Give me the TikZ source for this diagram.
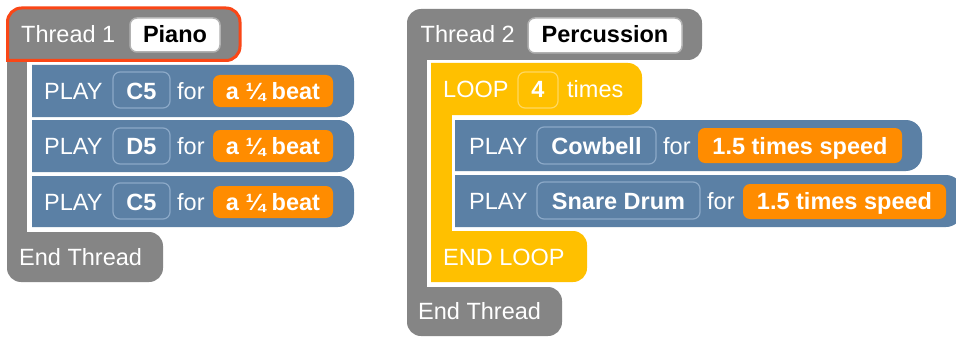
\documentclass[tikz,border=0pt]{standalone}
\usepackage{fontspec}
\setmainfont{Liberation Sans}
\definecolor{blkgray}{HTML}{858585}
\definecolor{blkblue}{HTML}{5B80A5}
\definecolor{fldblue}{HTML}{8CA9C8}
\definecolor{blkorange}{HTML}{FF8C00}
\definecolor{blkyellow}{HTML}{FFC000}
\definecolor{fldyellow}{HTML}{FFD860}
\definecolor{selred}{HTML}{FA4616}
% rounded rectangle: x1 y1 x2 y2 (y downwards) r_tl r_tr r_br r_bl
\newcommand\rrpath[8]{({#1},{#2+#5}) .. controls ({#1},{#2+0.448*#5}) and ({#1+0.448*#5},{#2}) .. ({#1+#5},{#2})
 -- ({#3-#6},{#2}) .. controls ({#3-0.448*#6},{#2}) and ({#3},{#2+0.448*#6}) .. ({#3},{#2+#6})
 -- ({#3},{#4-#7}) .. controls ({#3},{#4-0.448*#7}) and ({#3-0.448*#7},{#4}) .. ({#3-#7},{#4})
 -- ({#1+#8},{#4}) .. controls ({#1+0.448*#8},{#4}) and ({#1},{#4-0.448*#8}) .. ({#1},{#4-#8})
 -- cycle}
\begin{document}
\begin{tikzpicture}[x=1pt,y=-1pt,
  font=\fontsize{23.5}{28}\selectfont,
  lbl/.style={inner sep=0pt, anchor=base west, text=white},
  fldtxt/.style={inner sep=0pt, anchor=base, text=white, font=\fontsize{23.5}{28}\selectfont\bfseries},
  nametxt/.style={inner sep=0pt, anchor=base, text=black, font=\fontsize{23.5}{28}\selectfont\bfseries},
  whitefld/.style={fill=white, draw=black!30, line width=1.5pt},
  bluefld/.style={fill=blkblue, draw=fldblue, line width=1.2pt},
  orangefld/.style={fill=blkorange},
  yellowfld/.style={fill=blkyellow, draw=fldyellow, line width=1.2pt}]
\clip (0,0) rectangle (956,337);
\fill[white] (0,0) rectangle (956,337);

% ---------------- Thread 1 ----------------
\fill[blkgray] \rrpath{7}{8}{240}{60}{14}{14}{14}{0};
\fill[blkgray] (7,40) rectangle (27,250);
\fill[blkgray] \rrpath{7}{232}{163}{282}{0}{14}{14}{14};
\draw[selred, line width=3pt] \rrpath{7.5}{8}{240}{60.5}{14}{14}{14}{0};
\fill[whitefld] \rrpath{130}{18}{220}{52}{7}{7}{7}{7};
\node[lbl] (t1) at (21,42.5) {Thread 1};
\node[nametxt] (t1name) at (175,42.5) {Piano};

\fill[blkblue] \rrpath{32}{65}{354}{117}{0}{16}{16}{0};
\fill[blkblue] \rrpath{32}{120}{354}{172}{0}{16}{16}{0};
\fill[blkblue] \rrpath{32}{176}{354}{227}{0}{16}{16}{0};

\draw[bluefld] \rrpath{113}{72}{170}{108}{7}{7}{7}{7};
\draw[bluefld] \rrpath{113}{128}{170}{164}{7}{7}{7}{7};
\draw[bluefld] \rrpath{113}{183}{170}{219}{7}{7}{7}{7};
\fill[orangefld] \rrpath{213}{75}{333}{107}{7}{7}{7}{7};
\fill[orangefld] \rrpath{213}{130}{333}{162}{7}{7}{7}{7};
\fill[orangefld] \rrpath{213}{186}{333}{218}{7}{7}{7}{7};

\node[lbl] (p1) at (44,99.4) {PLAY};
\node[fldtxt] (n1) at (141.5,99.4) {C5};
\node[lbl] (f1) at (177,99.4) {for};
\node[fldtxt] (d1) at (273,99.4) {a ¼ beat};

\node[lbl] (p2) at (44,154.4) {PLAY};
\node[fldtxt] (n2) at (141.5,154.4) {D5};
\node[lbl] (f2) at (177,154.4) {for};
\node[fldtxt] (d2) at (273,154.4) {a ¼ beat};

\node[lbl] (p3) at (44,210) {PLAY};
\node[fldtxt] (n3) at (141.5,210) {C5};
\node[lbl] (f3) at (177,210) {for};
\node[fldtxt] (d3) at (273,210) {a ¼ beat};

\node[lbl] (e1) at (19,265.4) {End Thread};

% ---------------- Thread 2 ----------------
\fill[blkgray] \rrpath{407}{9}{702}{60}{14}{14}{14}{0};
\fill[blkgray] (407,40) rectangle (427,300);
\fill[blkgray] \rrpath{407}{287}{562}{336}{0}{14}{14}{14};
\fill[whitefld] \rrpath{528}{18}{682}{53}{7}{7}{7}{7};
\node[lbl] (t2) at (420.5,43) {Thread 2};
\node[nametxt] (t2name) at (605,43) {Percussion};

\fill[blkyellow] \rrpath{431}{63}{642}{115}{0}{14}{14}{0};
\fill[blkyellow] (431,100) rectangle (452,245);
\fill[blkyellow] \rrpath{431}{231}{587}{282}{0}{14}{14}{0};
\draw[yellowfld] \rrpath{518}{72}{558}{108}{7}{7}{7}{7};
\node[lbl] (lp) at (443,97.4) {LOOP};
\node[fldtxt] (lpn) at (538,97.4) {4};
\node[lbl] (lpt) at (567,97.4) {times};

\fill[blkblue] \rrpath{455}{120}{922}{171}{0}{16}{16}{0};
\fill[blkblue] \rrpath{455}{175}{962}{227}{0}{16}{16}{0};
\draw[bluefld] \rrpath{537}{127}{656}{164}{7}{7}{7}{7};
\draw[bluefld] \rrpath{537}{182}{700}{219}{7}{7}{7}{7};
\fill[orangefld] \rrpath{698}{128}{902}{163}{7}{7}{7}{7};
\fill[orangefld] \rrpath{743}{184}{946}{219}{7}{7}{7}{7};

\node[lbl] (p4) at (469,154) {PLAY};
\node[fldtxt] (n4) at (596.5,154) {Cowbell};
\node[lbl] (f4) at (663,154) {for};
\node[fldtxt] (d4) at (800,154) {1.5 times speed};

\node[lbl] (p5) at (469,209.5) {PLAY};
\node[fldtxt] (n5) at (618.5,209.5) {Snare Drum};
\node[lbl] (f5) at (707,209.5) {for};
\node[fldtxt] (d5) at (844.5,209.5) {1.5 times speed};

\node[lbl] (el) at (443,265) {END LOOP};
\node[lbl] (e2) at (418,319.5) {End Thread};
\end{tikzpicture}
\end{document}
